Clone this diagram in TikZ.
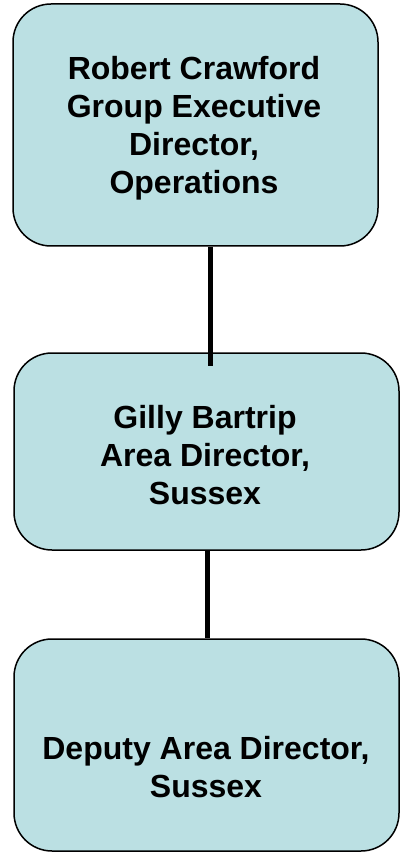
\documentclass[tikz,border=0pt]{standalone}
\usepackage{fontspec}
\setmainfont{Liberation Sans}
\definecolor{boxfill}{RGB}{187,224,227}
\begin{document}
\begin{tikzpicture}[x=1pt,y=1pt,
  box/.style={draw=black,line width=1.5pt,fill=boxfill,rounded corners=38pt,inner sep=0pt},
  lbl/.style={align=center,font=\bfseries\fontsize{32}{38}\selectfont,inner sep=0pt},
  conn/.style={draw=black,line width=5pt}]
\useasboundingbox (0,0) rectangle (405,-858);
\fill[white] (0,0) rectangle (405,-858);
% boxes
\node[box,minimum width=365pt,minimum height=242pt] (b1) at (195.5,-125) {};
\node[box,minimum width=385pt,minimum height=197pt] (b2) at (206.5,-451.5) {};
\node[box,minimum width=385pt,minimum height=212pt] (b3) at (206.5,-745) {};
% connectors
\coordinate (c1) at (210,-366);
\coordinate (c2) at (207,-639);
\draw[conn] (b1.south -| c1) -- (c1);
\draw[conn] (b2.south -| c2) -- (b3.north -| c2);
% labels
\node[lbl] (t1) at (194,-128) {Robert Crawford\\Group Executive\\Director,\\Operations};
\node[lbl] (t2) at (205,-455) {Gilly Bartrip\\ Area Director,\\Sussex};
\node[lbl] (t3) at (206,-767) {Deputy Area Director,\\Sussex};
\end{tikzpicture}
\end{document}
